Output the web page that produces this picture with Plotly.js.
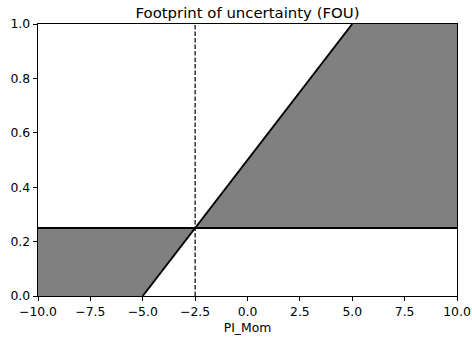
<!DOCTYPE html>
<html>
<head>
<meta charset="utf-8">
<script src="https://cdn.plot.ly/plotly-3.0.1.min.js"></script>
<style>
  html, body { margin: 0; padding: 0; background: #fff; }
  #chart { width: 472px; height: 341px; }
</style>
</head>
<body>
<div id="chart"></div>
<script>
// Membership bounds on PI_Mom: a flat level and a rising ramp
const flatX = [-10, 10];
const flatY = [0.25, 0.25];
const rampX = [-5, 5];
const rampY = [0, 1];

// Crossing point of the two bounds (marked by the dashed line)
const crossX = [-2.5, -2.5];
const crossY = [0, 1];

// Shaded footprint: left part (ramp below the flat level)
const leftX = [-10, -5, -2.5];
const leftLower = [0, 0, 0.25];
const leftUpper = [0.25, 0.25, 0.25];

// Shaded footprint: right part (ramp above the flat level)
const rightX = [-2.5, 5, 10];
const rightLower = [0.25, 0.25, 0.25];
const rightUpper = [0.25, 1, 1];

// Tick labels
const xTickVals = [-10, -7.5, -5, -2.5, 0, 2.5, 5, 7.5, 10];
const xTickText = ['\u221210.0', '\u22127.5', '\u22125.0', '\u22122.5', '0.0', '2.5', '5.0', '7.5', '10.0'];
const yTickVals = [0, 0.2, 0.4, 0.6, 0.8, 1.0];
const yTickText = ['0.0', '0.2', '0.4', '0.6', '0.8', '1.0'];

const fillColor = '#808080';
const font = 'DejaVu Sans';

const traces = [
  { x: leftX, y: leftLower, mode: 'lines', line: { width: 0 }, hoverinfo: 'skip', showlegend: false },
  { x: leftX, y: leftUpper, mode: 'lines', line: { width: 0 }, fill: 'tonexty', fillcolor: fillColor, hoverinfo: 'skip', showlegend: false },
  { x: rightX, y: rightLower, mode: 'lines', line: { width: 0 }, hoverinfo: 'skip', showlegend: false },
  { x: rightX, y: rightUpper, mode: 'lines', line: { width: 0 }, fill: 'tonexty', fillcolor: fillColor, hoverinfo: 'skip', showlegend: false },
  { x: flatX, y: flatY, mode: 'lines', line: { color: '#000', width: 1.9 }, showlegend: false },
  { x: rampX, y: rampY, mode: 'lines', line: { color: '#000', width: 1.9 }, showlegend: false },
  { x: crossX, y: crossY, mode: 'lines', line: { color: '#000', width: 1.2, dash: '4.5px,2px' }, showlegend: false }
];

const axisCommon = {
  showline: true, mirror: true, linecolor: '#000', linewidth: 1,
  ticks: 'outside', ticklen: 4.4, tickwidth: 1, tickcolor: '#000',
  showgrid: false, zeroline: false, automargin: false,
  tickfont: { family: font, size: 12.4, color: '#000' },
  tickmode: 'array'
};

const layout = {
  width: 472, height: 341,
  margin: { l: 38, r: 15, t: 23.5, b: 45, pad: 0 },
  paper_bgcolor: '#fff', plot_bgcolor: '#fff',
  title: {
    text: 'Footprint of uncertainty (FOU)',
    font: { family: font, size: 14.9, color: '#000' },
    x: 0.5, xref: 'paper', xanchor: 'center',
    y: 1, yref: 'paper', yanchor: 'bottom', pad: { b: 6 }
  },
  xaxis: Object.assign({}, axisCommon, {
    range: [-10, 10], tickvals: xTickVals, ticktext: xTickText,
    title: { text: 'PI_Mom', font: { family: font, size: 12.4, color: '#000' }, standoff: 5 }
  }),
  yaxis: Object.assign({}, axisCommon, {
    range: [0, 1], tickvals: yTickVals, ticktext: yTickText
  }),
  showlegend: false
};

Plotly.newPlot('chart', traces, layout, { staticPlot: true, displayModeBar: false });
</script>
</body>
</html>
